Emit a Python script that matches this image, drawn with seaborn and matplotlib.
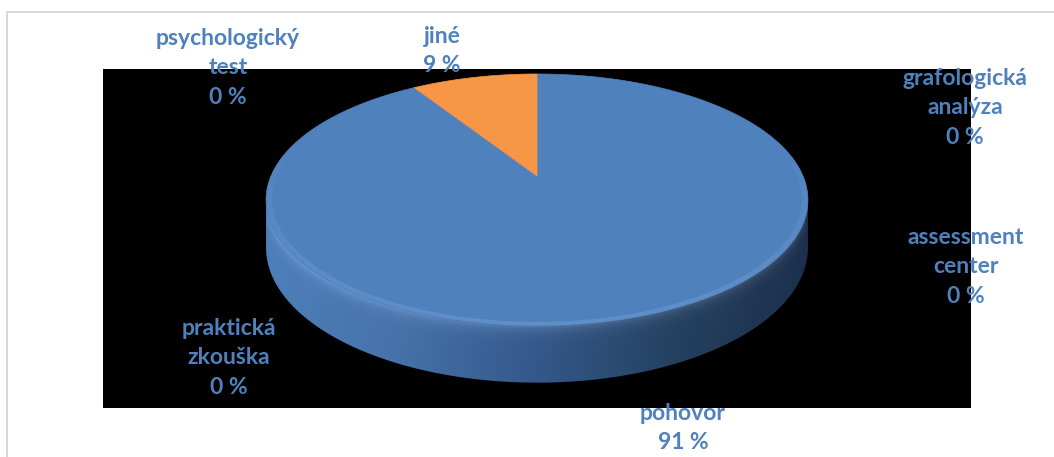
import numpy as np
import matplotlib
matplotlib.use("Agg")
import matplotlib.pyplot as plt
from matplotlib.patches import Polygon
from matplotlib.lines import Line2D
from matplotlib.colors import to_rgb
import seaborn as sns

# Survey answers: which selection methods are used
categories = ["pohovor", "jiné", "psychologický test", "grafologická analýza",
              "assessment center", "praktická zkouška"]
label_names = ["pohovor", "jiné", "psychologický\ntest", "grafologická\nanalýza",
               "assessment\ncenter", "praktická\nzkouška"]
shares = [91, 9, 0, 0, 0, 0]

sns.set_theme(style="white")
plt.rcParams["font.family"] = ["Lato", "DejaVu Sans"]
palette = sns.color_palette(["#4F81BD", "#F79646"])
text_color = "#4F81BD"

W, H = 1054, 457
fig = plt.figure(figsize=(W / 100, H / 100), dpi=100, facecolor="white")

# chart frame (light grey border)
fig.add_artist(Line2D([7 / W, 7 / W], [0, 1 - 12 / H], transform=fig.transFigure,
                      color="#D9D9D9", lw=1.4))
fig.add_artist(Line2D([7 / W, 1.0], [1 - 12 / H, 1 - 12 / H], transform=fig.transFigure,
                      color="#D9D9D9", lw=1.4))

# plot area in pixel-like data units
ax = fig.add_axes([103 / W, 1 - 408 / H, 868 / W, 339 / H])
ax.set_xlim(103, 971)
ax.set_ylim(408, 69)
ax.set_facecolor("black")
ax.set_xticks([])
ax.set_yticks([])
for s in ax.spines.values():
    s.set_visible(False)

# perspective disc geometry
cx, cy = 537.0, 176.0
A, B, K, DEPTH = 266.0, 121.4, 0.19, 46.0


def proj(phi_deg, r=1.0, z=0.0):
    phi = np.radians(np.atleast_1d(phi_deg))
    u = r * np.sin(phi)
    v = r * np.cos(phi)
    w = 1.0 / (1.0 + K * v)
    return np.column_stack([cx + A * u * w, cy + (-B * v + z * DEPTH) * w])


# side wall (front half) as one outline, filled with a shaded gradient
phi_right = np.degrees(np.arccos(-K))
phi_left = 360 - phi_right
arc = np.linspace(phi_right, phi_left, 400)
top_edge = proj(arc, z=0.0)
bot_edge = proj(arc[::-1], z=1.0)
side = Polygon(np.vstack([top_edge, bot_edge]), closed=True, facecolor="none",
               edgecolor="none")
ax.add_patch(side)

x0, x1 = top_edge[:, 0].min() - 2, top_edge[:, 0].max() + 2
y0, y1 = top_edge[:, 1].min() - 2, bot_edge[:, 1].max() + 2
gx = np.linspace(x0, x1, 600)
gy = np.linspace(y0, y1, 300)
XX, YY = np.meshgrid(gx, gy)
stops_x = [266, 400, 537, 680, 808]
stops_col = np.array([to_rgb(c) for c in ["#4E7FBA", "#4572A8", "#34588A", "#24405F", "#1C304B"]])
base = np.stack([np.interp(XX, stops_x, stops_col[:, i]) for i in range(3)], axis=-1)
order = np.argsort(top_edge[:, 0])
ytop = np.interp(XX, top_edge[order, 0], top_edge[order, 1])
dist = np.clip(YY - ytop, 0, None)
bevel = np.exp(-dist / 6.0)[..., None] * 0.12
img = np.clip(base + bevel, 0, 1)
im = ax.imshow(img, extent=(x0, x1, y1, y0), origin="upper", aspect="auto",
               interpolation="bilinear", zorder=1)
im.set_clip_path(side)
ax.set_xlim(103, 971)
ax.set_ylim(408, 69)

# top face slices, clockwise from 12 o'clock
total = sum(shares)
start = 0.0
slice_colors = {"pohovor": palette[0], "jiné": palette[1]}
for name, val in zip(categories, shares):
    if val == 0:
        continue
    sweep = 360.0 * val / total
    arc_s = np.linspace(start, start + sweep, max(int(sweep * 2), 4))
    pts = np.vstack([proj(0.0, r=0.0), proj(arc_s)])
    col = slice_colors[name]
    ax.add_patch(Polygon(pts, closed=True, facecolor=col, edgecolor=col, lw=0.5,
                         zorder=2))
    start += sweep

# soft bevel highlight along the front rim of the top face
rim = np.linspace(phi_right - 25, phi_left + 25, 220)
span = (phi_left + 25) - (phi_right - 25)
for a0, a1 in zip(rim[:-1], rim[1:]):
    am = 0.5 * (a0 + a1)
    wgt = np.sin(np.radians((am - (phi_right - 25)) / span * 180)) ** 0.7
    outer = proj(np.array([a0, a1]), r=1.0)
    inner = proj(np.array([a1, a0]), r=0.978)
    ax.add_patch(Polygon(np.vstack([outer, inner]), closed=True, facecolor="#78A3DA",
                         edgecolor="none", alpha=0.4 * wgt, zorder=3))

# data labels
label_pos = {
    "pohovor": (683, 428),
    "jiné": (442, 51),
    "psychologický test": (228, 68),
    "grafologická analýza": (965, 108),
    "assessment center": (966, 267),
    "praktická zkouška": (229, 358),
}
for name, lbl, val in zip(categories, label_names, shares):
    x, y = label_pos[name]
    ax.text(x, y, f"{lbl}\n{val} %", ha="center", va="center", color=text_color,
            fontsize=16.5, fontweight="bold", linespacing=1.5, clip_on=False,
            zorder=5)

fig.savefig("out.png", dpi=100, facecolor="white")
